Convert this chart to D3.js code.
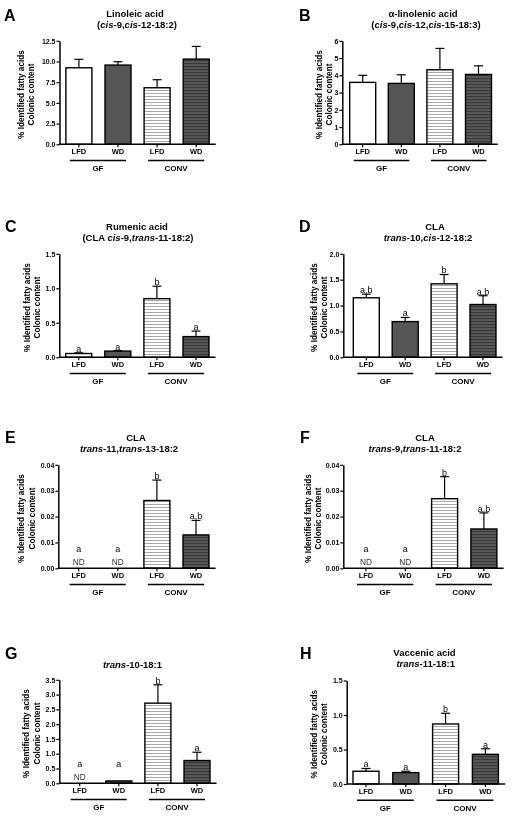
<!DOCTYPE html>
<html><head><meta charset="utf-8">
<script src="https://cdn.jsdelivr.net/npm/d3@7/dist/d3.min.js"></script>
<style>
body{margin:0;background:#fff}
svg{display:block}
text{font-family:"Liberation Sans",Arial,Helvetica,sans-serif}
</style>
</head><body>
<svg id="chart" width="512" height="819"></svg>
<script>
// ---------- DATA ----------
const categories = ["LFD", "WD", "LFD", "WD"];
const groups = ["GF", "CONV"];
const yAxisTitle = ["% Identified fatty acids", "Colonic content"];

const linoleicMean = [9.24, 9.57, 6.83, 10.29];
const linoleicSem  = [1.02, 0.40, 0.97, 1.53];
const linoleicTicks = [0, 2.5, 5, 7.5, 10, 12.5];

const alphaLinolenicMean = [3.59, 3.53, 4.32, 4.05];
const alphaLinolenicSem  = [0.41, 0.50, 1.24, 0.50];
const alphaLinolenicTicks = [0, 1, 2, 3, 4, 5, 6];

const rumenicMean = [0.055, 0.09, 0.85, 0.30];
const rumenicSem  = [0.01, 0.005, 0.18, 0.08];
const rumenicLetters = ["a", "a", "b", "a"];
const rumenicTicks = [0, 0.5, 1.0, 1.5];

const cla10c12Mean = [1.15, 0.69, 1.42, 1.02];
const cla10c12Sem  = [0.07, 0.08, 0.18, 0.17];
const cla10c12Letters = ["a,b", "a", "b", "a,b"];
const cla10c12Ticks = [0, 0.5, 1.0, 1.5, 2.0];

const cla11t13Mean = [0, 0, 0.0262, 0.0129];
const cla11t13Sem  = [0, 0, 0.0079, 0.0056];
const cla11t13Letters = ["a", "a", "b", "a,b"];
const cla11t13ND = [true, true, false, false];
const cla11t13Ticks = [0, 0.01, 0.02, 0.03, 0.04];

const cla9t11Mean = [0, 0, 0.0269, 0.0152];
const cla9t11Sem  = [0, 0, 0.0085, 0.0062];
const cla9t11Letters = ["a", "a", "b", "a,b"];
const cla9t11ND = [true, true, false, false];
const cla9t11Ticks = [0, 0.01, 0.02, 0.03, 0.04];

const t10c181Mean = [0, 0.08, 2.71, 0.77];
const t10c181Sem  = [0, 0, 0.62, 0.28];
const t10c181Letters = ["a", "a", "b", "a"];
const t10c181ND = [true, false, false, false];
const t10c181Ticks = [0, 0.5, 1.0, 1.5, 2.0, 2.5, 3.0, 3.5];

const vaccenicMean = [0.185, 0.165, 0.87, 0.43];
const vaccenicSem  = [0.04, 0.02, 0.155, 0.08];
const vaccenicLetters = ["a", "a", "b", "a"];
const vaccenicTicks = [0, 0.5, 1.0, 1.5];

// ---------- PANELS (layout + data refs) ----------
const panels = [
  {id:"A", mean:linoleicMean, sem:linoleicSem, ticks:linoleicTicks, fmt:".1f",
   title:["Linoleic acid","(*cis*-9,*cis*-12-18:2)"], tx:[135,137], ty:[17.3,28],
   lx:4, ly:20.5, ax:59.5, off:19.4, step:39.1, zero:144.3, yl:[23.7,33.7]},
  {id:"B", mean:alphaLinolenicMean, sem:alphaLinolenicSem, ticks:alphaLinolenicTicks, fmt:"d",
   title:["α-linolenic acid","(*cis*-9,*cis*-12,*cis*-15-18:3)"], tx:[423,426], ty:[17.3,28],
   lx:299, ly:20.5, ax:342.3, off:20.4, step:38.6, zero:144.3, yl:[322.3,332.3]},
  {id:"C", mean:rumenicMean, sem:rumenicSem, letters:rumenicLetters, ticks:rumenicTicks, fmt:".1f",
   title:["Rumenic acid","(CLA *cis*-9,*trans*-11-18:2)"], tx:[137,138], ty:[230,240.7],
   lx:5, ly:231.7, ax:59.3, off:19.4, step:39.1, zero:357.3, yl:[30.3,40.3]},
  {id:"D", mean:cla10c12Mean, sem:cla10c12Sem, letters:cla10c12Letters, ticks:cla10c12Ticks, fmt:".1f",
   title:["CLA","*trans*-10,*cis*-12-18:2"], tx:[435,428], ty:[230,240.7],
   lx:299, ly:231.7, ax:343.3, off:23, step:38.9, zero:357.3, yl:[316.5,326.5]},
  {id:"E", mean:cla11t13Mean, sem:cla11t13Sem, letters:cla11t13Letters, nd:cla11t13ND, ticks:cla11t13Ticks, fmt:".2f",
   title:["CLA","*trans*-11,*trans*-13-18:2"], tx:[136,129], ty:[440.7,451.7],
   lx:5, ly:443.3, ax:58.3, off:20.4, step:39.1, zero:568.3, yl:[24.2,34.8]},
  {id:"F", mean:cla9t11Mean, sem:cla9t11Sem, letters:cla9t11Letters, nd:cla9t11ND, ticks:cla9t11Ticks, fmt:".2f",
   title:["CLA","*trans*-9,*trans*-11-18:2"], tx:[425,415], ty:[440.7,451.7],
   lx:300, ly:443.3, ax:343.3, off:22.7, step:39.3, zero:568.3, yl:[310.8,320.8]},
  {id:"G", mean:t10c181Mean, sem:t10c181Sem, letters:t10c181Letters, nd:t10c181ND, ticks:t10c181Ticks, fmt:".1f",
   title:["*trans*-10-18:1"], tx:[132.5], ty:[667.7],
   lx:5, ly:659.3, ax:59.3, off:20.4, step:39.1, zero:783.3, yl:[29.2,39.8]},
  {id:"H", mean:vaccenicMean, sem:vaccenicSem, letters:vaccenicLetters, ticks:vaccenicTicks, fmt:".1f",
   title:["Vaccenic acid","*trans*-11-18:1"], tx:[424.5,425.7], ty:[655.7,666.7],
   lx:300, ly:659.3, ax:346.7, off:19.3, step:39.8, zero:784, yl:[316.8,326.8]}
];

const plotH = 103.5;
const svg = d3.select("#chart");
svg.append("rect").attr("width",512).attr("height",819).attr("fill","#fff");
const root = svg.append("g").attr("opacity",0.999);

// patterns
const defs = svg.append("defs");
const pL = defs.append("pattern").attr("id","hLight").attr("patternUnits","userSpaceOnUse")
  .attr("width",6).attr("height",3);
pL.append("rect").attr("width",6).attr("height",3).attr("fill","#fff");
pL.append("rect").attr("width",6).attr("height",1).attr("fill","#a8a8a8");
const pD = defs.append("pattern").attr("id","hDark").attr("patternUnits","userSpaceOnUse")
  .attr("width",6).attr("height",3);
pD.append("rect").attr("width",6).attr("height",3).attr("fill","#595959");
pD.append("rect").attr("width",6).attr("height",1.2).attr("fill","#383838");
const fills = ["#ffffff", "#555555", "url(#hLight)", "url(#hDark)"];

function richText(sel, str){
  str.split("*").forEach((part,k)=>{
    if(!part) return;
    sel.append("tspan").text(part).attr("font-style", k%2 ? "italic" : "normal");
  });
}

panels.forEach(p=>{
  const g = root.append("g");
  const start = p.ax + p.off - p.step/2;
  const pad = 1 - 26/p.step;
  const x = d3.scaleBand().domain(d3.range(4)).range([start, start + 4*p.step])
    .paddingInner(pad).paddingOuter(pad/2);
  const ymax = p.ticks[p.ticks.length-1];
  const y = d3.scaleLinear().domain([0, ymax]).range([p.zero, p.zero - plotH]);
  const bw = x.bandwidth();
  const cx = i => x(i) + bw/2;

  // panel letter
  g.append("text").attr("x",p.lx).attr("y",p.ly).text(p.id)
    .attr("font-size",16).attr("font-weight","bold");

  // title
  p.title.forEach((t,k)=>{
    const tt = g.append("text").attr("x",p.tx[k]).attr("y",p.ty[k]).attr("text-anchor","middle")
      .attr("font-size",9.5).attr("font-weight","bold");
    richText(tt, t);
  });

  // y axis title
  const cy = p.zero - plotH/2 + 2;
  yAxisTitle.forEach((t,k)=>{
    g.append("text").attr("transform",`translate(${p.yl[k]},${cy}) rotate(-90)`)
      .attr("text-anchor","middle").attr("font-size",8.2).attr("font-weight","bold").text(t);
  });

  // bars
  p.mean.forEach((v,i)=>{
    if (v > 0) {
      g.append("rect").attr("x",x(i)).attr("y",y(v)).attr("width",bw).attr("height",p.zero - y(v))
        .attr("fill",fills[i]).attr("stroke","#000").attr("stroke-width",1.4);
    }
    const s = p.sem[i];
    if (v > 0 && s > 0) {
      g.append("line").attr("x1",cx(i)).attr("x2",cx(i)).attr("y1",y(v)).attr("y2",y(v+s))
        .attr("stroke","#000").attr("stroke-width",1.2);
      g.append("line").attr("x1",cx(i)-4.5).attr("x2",cx(i)+4.5).attr("y1",y(v+s)).attr("y2",y(v+s))
        .attr("stroke","#000").attr("stroke-width",1.2);
    }
  });

  // letters
  const hasND = p.nd && p.nd.some(d=>d);
  if (p.letters) {
    p.letters.forEach((L,i)=>{
      let ly = y(p.mean[i] + p.sem[i]) - 1.2;
      if (hasND && i < 2) ly = p.zero - 16;
      g.append("text").attr("x",cx(i)).attr("y",ly).attr("text-anchor","middle")
        .attr("font-size",9).text(L);
    });
  }
  if (p.nd) {
    p.nd.forEach((d,i)=>{
      if (d) g.append("text").attr("x",cx(i)).attr("y",p.zero - 3.5).attr("text-anchor","middle")
        .attr("font-size",8.3).attr("fill","#333").text("ND");
    });
  }

  // y axis
  const fmt = d3.format(p.fmt);
  const ya = g.append("g").attr("transform",`translate(${p.ax},0)`)
    .call(d3.axisLeft(y).tickValues(p.ticks).tickFormat(fmt).tickSize(3).tickSizeOuter(0).tickPadding(1));
  ya.select(".domain").attr("stroke-width",1.5);
  ya.selectAll(".tick line").attr("stroke-width",1.2);
  ya.selectAll("text").attr("font-size",7).attr("font-weight","bold").attr("fill","#000")
    .attr("font-family",'"Liberation Sans",Arial,sans-serif');

  // x axis
  const xa = g.append("g").attr("transform",`translate(0,${p.zero})`)
    .call(d3.axisBottom(x).tickFormat(i=>categories[i]).tickSize(3).tickSizeOuter(0).tickPadding(1.5));
  xa.select(".domain").attr("d",`M${p.ax},0H${start + 4*p.step}`).attr("stroke-width",1.5);
  xa.selectAll(".tick line").attr("stroke-width",1.2);
  xa.selectAll("text").attr("font-size",7.5).attr("font-weight","bold").attr("fill","#000")
    .attr("font-family",'"Liberation Sans",Arial,sans-serif');

  // group lines
  groups.forEach((gname,k)=>{
    const a = cx(2*k) - 9, b = cx(2*k+1) + 8;
    g.append("line").attr("x1",a).attr("x2",b).attr("y1",p.zero+16.3).attr("y2",p.zero+16.3)
      .attr("stroke","#000").attr("stroke-width",1.5);
    g.append("text").attr("x",(a+b)/2).attr("y",p.zero+27).attr("text-anchor","middle")
      .attr("font-size",8).attr("font-weight","bold").text(gname);
  });
});
</script>
</body></html>
